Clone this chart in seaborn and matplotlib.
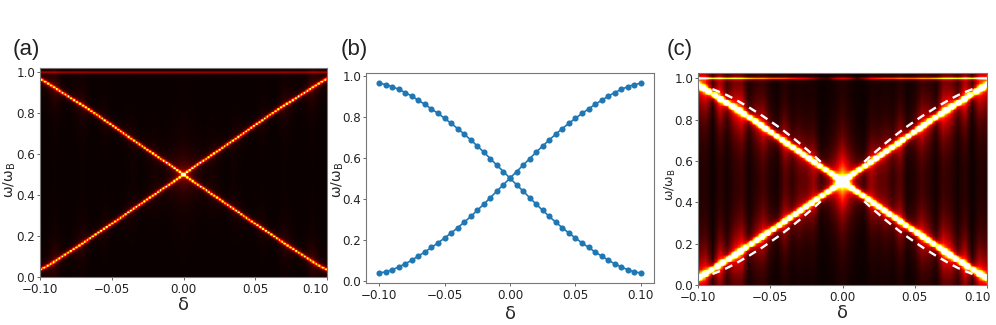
import numpy as np
import matplotlib
matplotlib.use("Agg")
import matplotlib.pyplot as plt
from matplotlib.transforms import ScaledTranslation
import seaborn as sns

# sweep of the detuning, one column per value
delta = [-0.100, -0.095, -0.090, -0.085, -0.080, -0.075, -0.070, -0.065, -0.060, -0.055, -0.050,
         -0.045, -0.040, -0.035, -0.030, -0.025, -0.020, -0.015, -0.010, -0.005, 0.000,
         0.005, 0.010, 0.015, 0.020, 0.025, 0.030, 0.035, 0.040, 0.045, 0.050,
         0.055, 0.060, 0.065, 0.070, 0.075, 0.080, 0.085, 0.090, 0.095, 0.100]

# (b) computed branches
calc_rise = [0.037, 0.043, 0.053, 0.067, 0.082, 0.100, 0.120, 0.140, 0.162, 0.184, 0.208,
             0.232, 0.258, 0.285, 0.313, 0.343, 0.373, 0.405, 0.437, 0.468, 0.500,
             0.532, 0.563, 0.595, 0.627, 0.657, 0.687, 0.715, 0.742, 0.768, 0.792,
             0.816, 0.838, 0.860, 0.880, 0.900, 0.918, 0.933, 0.947, 0.957, 0.963]
calc_fall = calc_rise[::-1]

# (a)/(c) bright ridge in the spectrum
ridge_rise = [0.035, 0.053, 0.075, 0.098, 0.120, 0.143, 0.165, 0.190, 0.213, 0.237, 0.260,
              0.283, 0.308, 0.332, 0.355, 0.380, 0.403, 0.428, 0.450, 0.475, 0.500,
              0.525, 0.550, 0.572, 0.597, 0.620, 0.645, 0.668, 0.692, 0.717, 0.742,
              0.765, 0.790, 0.813, 0.837, 0.858, 0.880, 0.902, 0.925, 0.947, 0.967]
ridge_fall = ridge_rise[::-1]

# tail strength per column (the vertical stripes)
stripes_a = [0.01, 0.02, 0.06, 0.01, 0.00, 0.02, 0.04, 0.00, 0.00, 0.02, 0.00,
             0.00, 0.01, 0.02, 0.00, 0.01, 0.02, 0.01, 0.02, 0.04, 0.06,
             0.04, 0.02, 0.01, 0.02, 0.01, 0.00, 0.02, 0.01, 0.00, 0.00,
             0.02, 0.00, 0.00, 0.04, 0.02, 0.00, 0.01, 0.06, 0.02, 0.01]
stripes_c = [0.26, 0.30, 0.02, 0.30, 0.08, 0.26, 0.32, 0.04, 0.16, 0.24, 0.08,
             0.03, 0.20, 0.08, 0.14, 0.12, 0.16, 0.02, 0.05, 0.14, 0.30,
             0.14, 0.05, 0.02, 0.16, 0.12, 0.14, 0.08, 0.20, 0.03, 0.08,
             0.24, 0.16, 0.04, 0.32, 0.26, 0.08, 0.30, 0.02, 0.30, 0.26]

# strength of the flat line at omega = 1 per column
top_line_a = [0.22] * 41
top_line_c = [0.75, 0.75, 0.75, 0.70, 0.70, 0.70, 0.65, 0.65, 0.55, 0.55, 0.50,
              0.50, 0.45, 0.40, 0.35, 0.30, 0.20, 0.10, 0.08, 0.25, 0.30,
              0.25, 0.08, 0.20, 0.35, 0.40, 0.45, 0.45, 0.50, 0.50, 0.50,
              0.55, 0.55, 0.65, 0.65, 0.70, 0.70, 0.70, 0.75, 0.75, 0.75]

x_ticks = [-0.10, -0.05, 0.00, 0.05, 0.10]
x_ticklabels = ["\u22120.10", "\u22120.05", "0.00", "0.05", "0.10"]
y_ticks = [0.0, 0.2, 0.4, 0.6, 0.8, 1.0]
y_ticklabels = ["0.0", "0.2", "0.4", "0.6", "0.8", "1.0"]

W, H = 996, 325
N_FINE = 480


def spectrum(ymax, step, gamma, amp, stripes, top_line, tail=0.12):
    # coarse rows in omega give the beaded look of the ridges
    omega = np.arange(0, ymax + step, step)
    fine_d = np.linspace(delta[0], delta[-1], N_FINE)
    fine_w = np.linspace(0, ymax, N_FINE)
    rise = np.interp(fine_d, delta, ridge_rise)
    fall = np.interp(fine_d, delta, ridge_fall)
    band = np.interp(fine_d, delta, stripes)
    flat = np.interp(fine_d, delta, top_line)
    out = np.zeros((N_FINE, N_FINE))
    for j in range(N_FINE):
        col = np.zeros(len(omega))
        for w0 in (rise[j], fall[j]):
            col += amp * gamma**2 / ((omega - w0)**2 + gamma**2)
            col += band[j] * tail**2 / ((omega - w0)**2 + tail**2)
        out[:, j] = np.interp(fine_w, omega, col)
        out[:, j] += flat[j] * 0.004**2 / ((fine_w - 1.0)**2 + 0.004**2)
    return out


def px_axes(fig, left, right, top, bottom):
    return fig.add_axes([left / W, 1 - bottom / H, (right - left) / W, (bottom - top) / H])


def dress(ax, to_x, to_y, lab_x, lab_y, lab_size, x_pad=2.5, xlab_pad=0, last_shift=0):
    ax.set_xticks([to_x(v) for v in x_ticks])
    ax.set_xticklabels(x_ticklabels, rotation=0)
    ax.set_yticks([to_y(v) for v in y_ticks])
    ax.set_yticklabels(y_ticklabels, rotation=0)
    ax.tick_params(length=2, width=0.7, color="#666666", labelsize=8.6, labelcolor="#222222", pad=1.5,
                   bottom=True, left=True)
    ax.tick_params(axis="x", pad=x_pad)
    ax.set_xlabel("\u03b4", fontsize=13, labelpad=xlab_pad)
    ax.set_ylabel("\u03c9/\u03c9$_{\\mathrm{B}}$", fontsize=lab_size, va="center")
    ax.yaxis.set_label_coords(lab_x / W, 1 - lab_y / H, transform=ax.figure.transFigure)
    if last_shift:
        lab = ax.get_xticklabels()[-1]
        lab.set_transform(lab.get_transform() + ScaledTranslation(last_shift / 100, 0, ax.figure.dpi_scale_trans))
    for s in ax.spines.values():
        s.set_visible(True)
        s.set_color("#777777")
        s.set_linewidth(0.8)


sns.set_theme(style="white")
plt.rcParams["font.family"] = ["DejaVu Sans"]
plt.rcParams["mathtext.default"] = "regular"

fig = plt.figure(figsize=(W / 100, H / 100), dpi=100)

# (a)
ymax_a = 1.02
ax_a = px_axes(fig, 40, 327, 68, 277)
sns.heatmap(spectrum(ymax_a, 0.009, 0.0042, 1.0, stripes_a, top_line_a, tail=0.08), cmap="hot", vmin=0, vmax=1,
            cbar=False, ax=ax_a, xticklabels=False, yticklabels=False)
ax_a.invert_yaxis()
dress(ax_a, lambda v: (v + 0.1) / 0.2 * N_FINE, lambda v: v / ymax_a * N_FINE, 10, 180, 10, last_shift=-12)

# (b)
ax_b = px_axes(fig, 366, 654, 73, 283)
sns.lineplot(x=delta, y=calc_rise, color="#1f77b4", linewidth=1.2, marker="o", markersize=4.4,
             markeredgewidth=0, ax=ax_b)
sns.lineplot(x=delta, y=calc_fall, color="#1f77b4", linewidth=1.2, marker="o", markersize=4.4,
             markeredgewidth=0, ax=ax_b)
ax_b.set_xlim(-0.1100, 0.1100)
ax_b.set_ylim(-0.0115, 1.0132)
dress(ax_b, lambda v: v, lambda v: v, 338, 180, 10, xlab_pad=2)

# (c)
ymax_c = 1.025
ax_c = px_axes(fig, 698, 987, 73, 285)
sns.heatmap(spectrum(ymax_c, 0.018, 0.0085, 1.7, stripes_c, top_line_c), cmap="hot", vmin=0, vmax=1,
            cbar=False, ax=ax_c, xticklabels=False, yticklabels=False)
ax_c.invert_yaxis()
to_xc = lambda v: (v + 0.1) / 0.2 * N_FINE
to_yc = lambda v: v / ymax_c * N_FINE
dress(ax_c, to_xc, to_yc, 670, 185, 9, last_shift=-10)

# dashed outline: computed branches over the spectrum, left and right wings
for lo, hi in ((2, 18), (23, 39)):
    for branch in (calc_rise, calc_fall):
        sns.lineplot(x=[to_xc(v) for v in delta[lo:hi]], y=[to_yc(v) for v in branch[lo:hi]],
                     color="white", linewidth=1.7, ax=ax_c, sort=False,
                     linestyle=(0, (3.4, 2.4)))

for label, x in (("(a)", 13), ("(b)", 341), ("(c)", 667)):
    fig.text(x / W, 1 - 55 / H, label, fontsize=16, family="Liberation Sans", color="#222222")

fig.savefig("out.png", dpi=100)
